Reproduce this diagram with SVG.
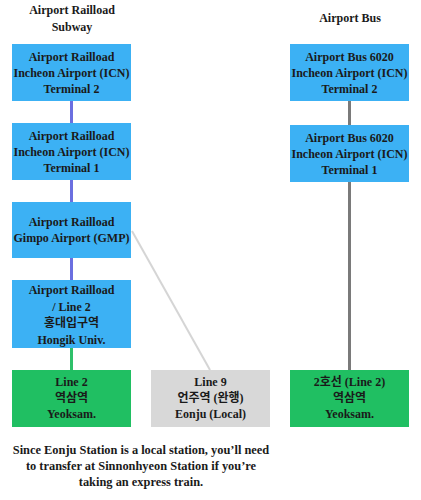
<svg xmlns="http://www.w3.org/2000/svg" width="421" height="500" viewBox="0 0 421 500">
<style>
text{font-family:"Liberation Serif","Noto Sans CJK KR",serif;font-size:12px;font-weight:bold;fill:#1a1a1a;text-anchor:middle}
.note{font-size:12.4px}
.blue{fill:#3cb1f4}
.green{fill:#20bf62}
.gray{fill:#d8d8d8}
</style>
<rect width="421" height="500" fill="#fff"/>
<g id="connectors" fill="none">
<line x1="71.5" y1="100" x2="71.5" y2="280" stroke="#6b6fe0" stroke-width="3"/>
<line x1="71.5" y1="347" x2="71.5" y2="370" stroke="#2ec06a" stroke-width="3"/>
<line x1="349.5" y1="100" x2="349.5" y2="370" stroke="#7a7a7a" stroke-width="3"/>
<line x1="132" y1="231" x2="210" y2="370" stroke="#d5d5d5" stroke-width="2"/>
</g>
<g id="title-subway"><text x="72" y="14">Airport Railload</text><text x="72" y="31">Subway</text></g>
<g id="title-bus"><text x="350" y="22">Airport Bus</text></g>
<g id="ar-t2"><rect class="blue" x="12" y="44" width="119" height="57"/><text x="71.5" y="61">Airport Railload</text><text x="71.5" y="77">Incheon Airport (ICN)</text><text x="71.5" y="93">Terminal 2</text></g>
<g id="ar-t1"><rect class="blue" x="12" y="123" width="119" height="57"/><text x="71.5" y="140">Airport Railload</text><text x="71.5" y="156">Incheon Airport (ICN)</text><text x="71.5" y="172">Terminal 1</text></g>
<g id="ar-gmp"><rect class="blue" x="12" y="202" width="119" height="56"/><text x="71.5" y="226">Airport Railload</text><text x="71.5" y="242">Gimpo Airport (GMP)</text></g>
<g id="ar-hongik"><rect class="blue" x="12" y="280" width="119" height="68"/><text x="71.5" y="294">Airport Railload</text><text x="71.5" y="311">/ Line 2</text><text x="71.5" y="327">홍대입구역</text><text x="71.5" y="344">Hongik Univ.</text></g>
<g id="line2-yeoksam"><rect class="green" x="12" y="370" width="119" height="57"/><text x="71.5" y="386">Line 2</text><text x="71.5" y="402">역삼역</text><text x="71.5" y="418">Yeoksam.</text></g>
<g id="line9-eonju"><rect class="gray" x="151" y="370" width="119" height="57"/><text x="210.5" y="386">Line 9</text><text x="210.5" y="402">언주역 (완행)</text><text x="210.5" y="418">Eonju (Local)</text></g>
<g id="bus-t2"><rect class="blue" x="290" y="44" width="119" height="57"/><text x="349.5" y="61">Airport Bus 6020</text><text x="349.5" y="77">Incheon Airport (ICN)</text><text x="349.5" y="93">Terminal 2</text></g>
<g id="bus-t1"><rect class="blue" x="290" y="125" width="119" height="57"/><text x="349.5" y="142">Airport Bus 6020</text><text x="349.5" y="158">Incheon Airport (ICN)</text><text x="349.5" y="174">Terminal 1</text></g>
<g id="bus-yeoksam"><rect class="green" x="290" y="370" width="119" height="57"/><text x="349.5" y="386">2호선 (Line 2)</text><text x="349.5" y="402">역삼역</text><text x="349.5" y="418">Yeoksam.</text></g>
<g id="note"><text class="note" x="141" y="454">Since Eonju Station is a local station, you’ll need</text><text class="note" x="141" y="470">to transfer at Sinnonhyeon Station if you’re</text><text class="note" x="141" y="486">taking an express train.</text></g>
</svg>
